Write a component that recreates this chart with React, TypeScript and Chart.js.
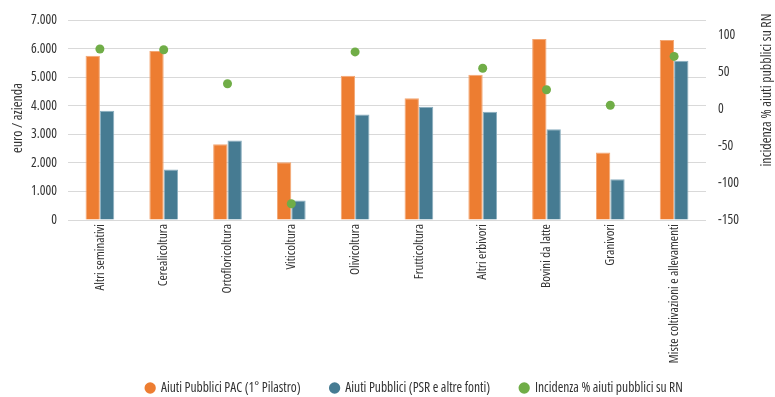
import { useEffect, useRef } from 'react';
import { Chart, registerables } from 'chart.js';

Chart.register(...registerables);

const categories = [
  'Altri seminativi',
  'Cerealicoltura',
  'Ortofloricoltura',
  'Viticoltura',
  'Olivicoltura',
  'Frutticoltura',
  'Altri erbivori',
  'Bovini da latte',
  'Granivori',
  'Miste coltivazioni e allevamenti',
];
const pacValues = [5750, 5920, 2650, 2020, 5050, 4260, 5090, 6340, 2360, 6300];
const psrValues = [3830, 1770, 2780, 680, 3690, 3970, 3790, 3180, 1430, 5580];
const incidenzaValues = [81, 80, 34, -128, 77, null, 55, 26, 5, 71];
const rightTicks = [-150, -100, -50, 0, 50, 100];

const seriesLabels = [
  'Aiuti Pubblici PAC (1° Pilastro)',
  'Aiuti Pubblici (PSR e altre fonti)',
  'Incidenza % aiuti pubblici su RN',
];
const leftTitle = 'euro / azienda';
const rightTitle = 'incidenza % aiuti pubblici su RN';

const FAMILY = '"Open Sans", sans-serif';
const STRETCH = 'condensed';
const TEXT = '#333333';
const LEGEND_SHIFT = 27;

const fmtThousands = (v: number) => {
  const s = Math.round(v).toString();
  return s.replace(/\B(?=(\d{3})+(?!\d))/g, '.');
};

const titlesPlugin = {
  id: 'axisTitles',
  afterLayout(chart: any) {
    const lg = chart.legend;
    if (lg) {
      lg.left += LEGEND_SHIFT;
      lg.right += LEGEND_SHIFT;
    }
  },
  afterDraw(chart: any) {
    const { ctx, chartArea } = chart;
    const midY = (chartArea.top + chartArea.bottom) / 2;
    ctx.save();
    ctx.fillStyle = TEXT;
    ctx.textAlign = 'center';
    ctx.textBaseline = 'middle';
    ctx.font = `${STRETCH} 14px ${FAMILY}`;
    ctx.translate(18, midY - 2);
    ctx.rotate(-Math.PI / 2);
    ctx.fillText(leftTitle, 0, 0);
    ctx.restore();

    ctx.save();
    ctx.fillStyle = TEXT;
    ctx.textAlign = 'center';
    ctx.textBaseline = 'middle';
    ctx.font = `${STRETCH} 14px ${FAMILY}`;
    ctx.translate(767, 90);
    ctx.rotate(-Math.PI / 2);
    ctx.fillText(rightTitle, 0, 0);
    ctx.restore();
  },
};

export default function App() {
  const ref = useRef<HTMLCanvasElement | null>(null);

  useEffect(() => {
    document.body.style.margin = '0';
    const canvas = ref.current;
    if (!canvas) return;
    const chart = new Chart(canvas, {
      type: 'bar',
      data: {
        labels: categories,
        datasets: [
          {
            type: 'bar',
            label: seriesLabels[0],
            data: pacValues,
            backgroundColor: '#ED7D31',
            borderColor: '#F3A774',
            borderWidth: 1,
            yAxisID: 'y',
            order: 1,
            categoryPercentage: 0.45,
            barPercentage: 1,
          },
          {
            type: 'bar',
            label: seriesLabels[1],
            data: psrValues,
            backgroundColor: '#467B92',
            borderColor: '#8AAEBF',
            borderWidth: 1,
            yAxisID: 'y',
            order: 1,
            categoryPercentage: 0.45,
            barPercentage: 1,
          },
          {
            type: 'line',
            label: seriesLabels[2],
            data: incidenzaValues as any,
            showLine: false,
            backgroundColor: '#70AD47',
            borderColor: '#70AD47',
            pointRadius: 4.5,
            pointBorderWidth: 0,
            yAxisID: 'y1',
            order: 0,
          },
        ],
      },
      options: {
        responsive: false,
        animation: false,
        devicePixelRatio: 1,
        layout: { padding: { top: 16, left: 0, right: 0, bottom: -7.75 } },
        plugins: {
          tooltip: { enabled: false },
          legend: {
            position: 'bottom',
            labels: {
              usePointStyle: true,
              pointStyle: 'circle',
              boxWidth: 8,
              boxHeight: 8,
              padding: 30,
              color: TEXT,
              font: { family: FAMILY, size: 13.5, weight: STRETCH },
              sort: (a: any, b: any) => a.datasetIndex - b.datasetIndex,
              generateLabels: (c: any) =>
                Chart.defaults.plugins.legend.labels
                  .generateLabels(c)
                  .map((l: any) => ({ ...l, lineWidth: 0, strokeStyle: l.fillStyle })),
            },
          },
        },
        scales: {
          x: {
            grid: { display: false, drawTicks: false },
            border: { display: false },
            ticks: {
              autoSkip: false,
              maxRotation: 90,
              minRotation: 90,
              padding: 4,
              color: TEXT,
              font: { family: FAMILY, size: 13, weight: STRETCH },
            },
            afterFit: (s: any) => {
              s.height = 131.25;
              s._computeLabelArea = () => undefined;
            },
          },
          y: {
            position: 'left',
            min: 0,
            max: 7000,
            ticks: {
              stepSize: 1000,
              padding: 11,
              color: TEXT,
              font: { family: FAMILY, size: 13.5, weight: STRETCH },
              callback: (v: any) => fmtThousands(Number(v)),
            },
            grid: { color: '#D9D9D9', lineWidth: 1, drawTicks: false },
            border: { display: false },
            afterFit: (s: any) => {
              s.width = 68;
            },
          },
          y1: {
            position: 'right',
            min: -150,
            max: 120,
            ticks: {
              padding: 12,
              color: TEXT,
              font: { family: FAMILY, size: 13.5, weight: STRETCH },
            },
            grid: { display: false, drawTicks: false },
            border: { display: false },
            afterBuildTicks: (s: any) => {
              s.ticks = rightTicks.map((v) => ({ value: v }));
            },
            afterFit: (s: any) => {
              s.width = 69;
            },
          },
        },
      } as any,
      plugins: [titlesPlugin],
    });
    return () => chart.destroy();
  }, []);

  return (
    <div style={{ width: 775, height: 397 }}>
      <canvas ref={ref} width={775} height={397} style={{ display: 'block' }} />
    </div>
  );
}
